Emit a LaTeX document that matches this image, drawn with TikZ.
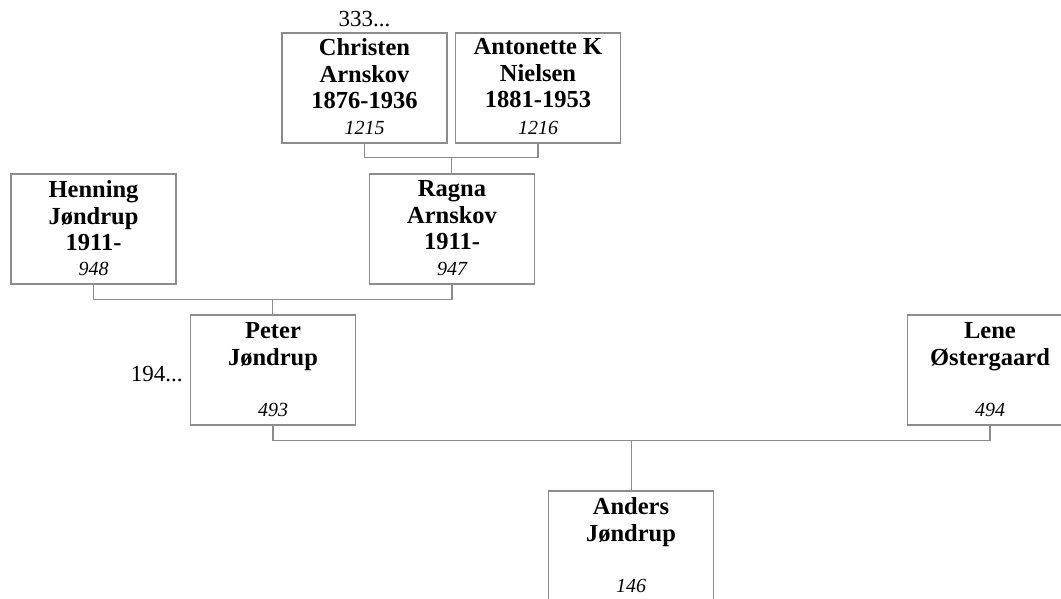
\documentclass[tikz,border=0pt]{standalone}
\usepackage{fontspec}
\setmainfont{Liberation Serif}
\usepackage{xcolor}
\usepackage{tikz}
\usetikzlibrary{positioning, calc}

\definecolor{boxgray}{HTML}{8C8C8C}

\begin{document}
\begin{tikzpicture}[
    x=1pt, y=1pt,
    person/.style={draw=boxgray, line width=1.3pt, rectangle, minimum width=165pt, minimum height=110pt, inner sep=0pt},
    pname/.style={font=\fontsize{24.5}{26.5}\selectfont\bfseries, align=center, inner sep=0pt},
    pnum/.style={font=\fontsize{20}{24}\selectfont\itshape, inner sep=0pt},
    note/.style={font=\fontsize{23}{26}\selectfont, inner sep=0pt},
    link/.style={draw=boxgray, line width=1.3pt}
]
\useasboundingbox (0,0) rectangle (1061,-598);
\clip (0,0) rectangle (1061,-598);

% Boxes
\node[person] (christen) at (364.5,-88) {};
\node[person] (antonette) at (538,-88) {};
\node[person] (henning) at (93.5,-229) {};
\node[person] (ragna) at (452,-229) {};
\node[person] (peter) at (273,-370) {};
\node[person] (lene) at (990,-370) {};
\node[person] (anders) at (631,-546) {};

% Names and numbers
\node[pname, below=6pt of christen.north] (christenname) {Christen\\Arnskov\\1876-1936};
\node[pnum, above=9pt of christen.south] (christennum) {1215};
\node[pname, below=6pt of antonette.north] (antonettename) {Antonette K\\Nielsen\\1881-1953};
\node[pnum, above=9pt of antonette.south] (antonettenum) {1216};
\node[pname, below=7pt of henning.north] (henningname) {Henning\\Jøndrup\\1911-};
\node[pnum, above=9pt of henning.south] (henningnum) {948};
\node[pname, below=7pt of ragna.north] (ragnaname) {Ragna\\Arnskov\\1911-};
\node[pnum, above=9pt of ragna.south] (ragnanum) {947};
\node[pname, below=8pt of peter.north] (petername) {Peter\\Jøndrup};
\node[pnum, above=9pt of peter.south] (peternum) {493};
\node[pname, below=8pt of lene.north] (lenename) {Lene\\Østergaard};
\node[pnum, above=9pt of lene.south] (lenenum) {494};
\node[pname, below=7pt of anders.north] (andersname) {Anders\\Jøndrup};
\node[pnum, above=9pt of anders.south] (andersnum) {146};

% More ancestors
\node[note, above=5pt of christen.north] (christenmore) {333...};
\node[note, left=7pt of peter.west, yshift=-4pt] (petermore) {194...};

% Families
\coordinate (m1) at ($(christen.south)!0.5!(antonette.south)+(0,-14)$);
\draw[link] (christen.south) |- (m1) -| (antonette.south);
\draw[link] (m1) -- (m1 |- ragna.north);

\coordinate (m2) at ($(henning.south)!0.5!(ragna.south)+(0,-15)$);
\draw[link] (henning.south) |- (m2) -| (ragna.south);
\draw[link] (m2) -- (m2 |- peter.north);

\coordinate (m3) at ($(peter.south)!0.5!(lene.south)+(0,-15)$);
\draw[link] (peter.south) |- (m3) -| (lene.south);
\draw[link] (m3) -- (m3 |- anders.north);

\end{tikzpicture}
\end{document}
